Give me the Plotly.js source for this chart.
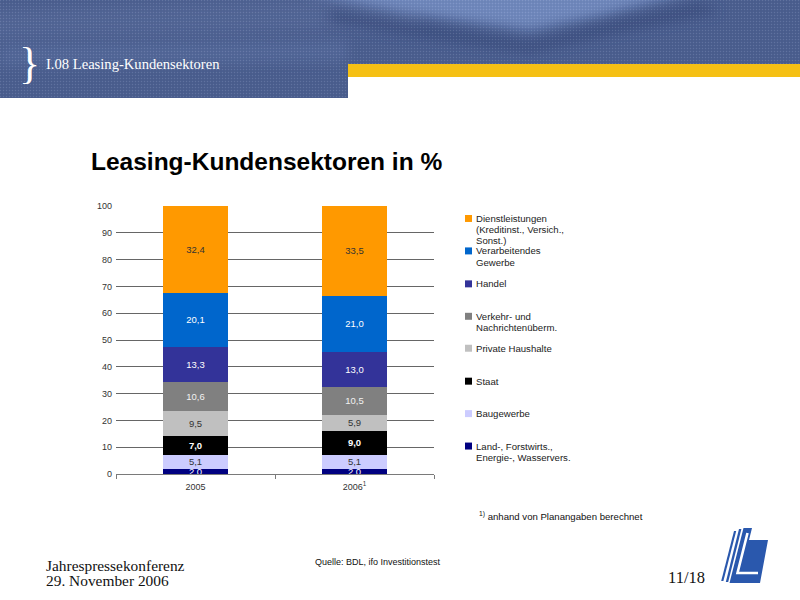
<!DOCTYPE html>
<html>
<head>
<meta charset="utf-8">
<script src="https://cdn.plot.ly/plotly-3.0.1.min.js"></script>
<style>
  html, body { margin: 0; padding: 0; background: #ffffff; }
  #stage { position: relative; width: 800px; height: 600px; overflow: hidden; }
  #deco { position: absolute; left: 0; top: 0; z-index: 0; }
  #chart { position: absolute; left: 0; top: 0; width: 800px; height: 600px; z-index: 1; }
</style>
</head>
<body>
<div id="stage">
  <!-- slide header band and company logo -->
  <svg id="deco" width="800" height="600" viewBox="0 0 800 600">
    <defs>
      <filter id="soft" x="-20%" y="-50%" width="140%" height="200%">
        <feGaussianBlur stdDeviation="6"/>
      </filter>
      <pattern id="weave" width="3" height="3" patternUnits="userSpaceOnUse">
        <rect width="1" height="1" fill="#ffffff" opacity="0.12"/>
        <rect x="1.5" y="1.5" width="1" height="1" fill="#000000" opacity="0.12"/>
      </pattern>
      <clipPath id="band">
        <path d="M0 0 H800 V64 H348 V98 H0 Z"/>
      </clipPath>
    </defs>
    <g clip-path="url(#band)">
      <rect x="0" y="0" width="800" height="98" fill="#4b5f90"/>
      <path d="M-20 10 L420 -6 L420 30 L-20 40 Z" fill="#56699a" filter="url(#soft)" opacity="0.7"/>
      <path d="M0 45 L348 40 L348 62 L0 66 Z" fill="#5a6ea0" filter="url(#soft)" opacity="0.6"/>
      <path d="M300 -10 L330 -2 L400 12 L470 22 L530 30 L600 16 L700 -10 Z" fill="#7088bd" filter="url(#soft)"/>
      <path d="M330 10 L400 22 L530 42 L620 20 L700 4 L720 12 L620 32 L530 52 L400 34 L330 22 Z" fill="#3b4e7e" filter="url(#soft)" opacity="0.8"/>
      <rect x="0" y="0" width="800" height="98" fill="url(#weave)"/>
    </g>
    <rect x="348" y="64" width="452" height="13" fill="#f5c014"/>
    <g transform="translate(718,528)" fill="#2a58ad">
      <polygon points="16,3 18.2,3 5.4,53 3.2,53"/>
      <polygon points="21,1 23.4,1 10.2,54 7.8,54"/>
      <polygon points="25.5,0 34,0 31,12 50,12 42,55 11.5,55"/>
      <polyline points="29.5,5 19.5,45 40,45" fill="none" stroke="#ffffff" stroke-width="2.6"/>
    </g>
  </svg>
  <div id="chart"></div>
</div>
<script>
// Shares of leasing customers by sector, in percent (stacked bottom to top)
const years = ['2005', '2006'];
const yearLabels = ['2005', '2006<sup>1</sup>'];

const sectorNames = [
  'Land-, Forstwirts.,\nEnergie-, Wasservers.',
  'Baugewerbe',
  'Staat',
  'Private Haushalte',
  'Verkehr- und\nNachrichtenüberm.',
  'Handel',
  'Verarbeitendes\nGewerbe',
  'Dienstleistungen\n(Kreditinst., Versich.,\nSonst.)'
];

const landForst     = [2.0, 2.0];
const baugewerbe    = [5.1, 5.1];
const staat         = [7.0, 9.0];
const privat        = [9.5, 5.9];
const verkehr       = [10.6, 10.5];
const handel        = [13.3, 13.0];
const verarbeitend  = [20.1, 21.0];
const dienst        = [32.4, 33.5];

const seriesValues = [landForst, baugewerbe, staat, privat, verkehr, handel, verarbeitend, dienst];
const sectorColors = ['#000080', '#ccccff', '#000000', '#c0c0c0', '#808080', '#333399', '#0066cc', '#ff9900'];
const labelColors  = ['#ffffff', '#333333', '#ffffff', '#333333', '#f2f2f2', '#ffffff', '#ffffff', '#333333'];
const labelWeights = [400, 400, 700, 400, 400, 400, 400, 400];

// plot area in page pixels
const L = 116, R = 434, T = 206, B = 474.5;
const W = R - L, H = B - T;
const px = x => (x - L) / W;
const py = y => (B - y) / H;

const SANS = 'Liberation Sans, Arial, sans-serif';
const SERIF = 'Liberation Serif, Times New Roman, serif';

const traces = seriesValues.map((vals, i) => ({
  type: 'bar',
  x: years,
  y: vals,
  name: sectorNames[i].replace(/\n/g, ' '),
  marker: { color: sectorColors[i], line: { width: 0 } },
  texttemplate: '%{y:.1f}',
  textposition: 'inside',
  insidetextanchor: 'middle',
  textangle: 0,
  constraintext: 'none',
  textfont: { family: SANS, size: 9.5, color: labelColors[i], weight: labelWeights[i] },
  hoverinfo: 'skip'
}));

const annotations = [];
const shapes = [];

// legend, top entry first
const legendRows = [218.5, 251, 284, 316.5, 348.5, 381.5, 414, 446.5];
const lineStep = 11.2;
for (let k = 0; k < sectorNames.length; k++) {
  const i = sectorNames.length - 1 - k;
  const yTop = legendRows[k];
  shapes.push({
    type: 'rect', xref: 'paper', yref: 'paper',
    x0: px(465), x1: px(472), y0: py(yTop - 3.5), y1: py(yTop + 3.5),
    fillcolor: sectorColors[i], line: { width: 0 }
  });
  sectorNames[i].split('\n').forEach((line, j) => {
    annotations.push({
      xref: 'paper', yref: 'paper', x: px(474), y: py(yTop + j * lineStep),
      xanchor: 'left', yanchor: 'middle', showarrow: false,
      text: line, font: { family: SANS, size: 9.6, color: '#222222' }
    });
  });
}

// header and footer text
annotations.push(
  { xref: 'paper', yref: 'paper', x: px(17), y: py(63), xanchor: 'left', yanchor: 'middle',
    showarrow: false, text: '}', font: { family: SERIF, size: 44, color: '#ffffff' } },
  { xref: 'paper', yref: 'paper', x: px(44), y: py(64), xanchor: 'left', yanchor: 'middle',
    showarrow: false, text: 'I.08 Leasing-Kundensektoren', font: { family: SERIF, size: 14.6, color: '#ffffff' } },
  { xref: 'paper', yref: 'paper', x: px(44), y: py(566), xanchor: 'left', yanchor: 'middle',
    showarrow: false, text: 'Jahrespressekonferenz', font: { family: SERIF, size: 15.4, color: '#111111' } },
  { xref: 'paper', yref: 'paper', x: px(44), y: py(581), xanchor: 'left', yanchor: 'middle',
    showarrow: false, text: '29. November 2006', font: { family: SERIF, size: 15.4, color: '#111111' } },
  { xref: 'paper', yref: 'paper', x: px(313), y: py(563), xanchor: 'left', yanchor: 'middle',
    showarrow: false, text: 'Quelle: BDL, ifo Investitionstest', font: { family: SANS, size: 9, color: '#111111' } },
  { xref: 'paper', yref: 'paper', x: px(477), y: py(516.5), xanchor: 'left', yanchor: 'middle',
    showarrow: false, text: '<sup>1)</sup> anhand von Planangaben berechnet', font: { family: SANS, size: 9.6, color: '#111111' } },
  { xref: 'paper', yref: 'paper', x: px(707), y: py(578.5), xanchor: 'right', yanchor: 'middle',
    showarrow: false, text: '11/18', font: { family: SERIF, size: 16.5, color: '#111111' } }
);

const layout = {
  width: 800, height: 600,
  margin: { l: L, r: 800 - R, t: T, b: 600 - B, pad: 0 },
  paper_bgcolor: 'rgba(0,0,0,0)',
  plot_bgcolor: '#ffffff',
  separators: ',.',
  barmode: 'stack',
  bargap: 0.59,
  showlegend: false,
  title: {
    text: 'Leasing-Kundensektoren in %',
    xref: 'container', yref: 'container',
    x: 91 / 800, xanchor: 'left',
    y: 1 - 161 / 600, yanchor: 'middle',
    font: { family: SANS, size: 24.5, weight: 700, color: '#000000' }
  },
  xaxis: {
    type: 'category',
    range: [-0.5, 1.5],
    tickvals: years, ticktext: yearLabels,
    showline: true, linecolor: '#7a7a7a', linewidth: 1,
    ticks: 'outside', tickson: 'boundaries', ticklen: 4, tickcolor: '#7a7a7a',
    ticklabelstandoff: 4,
    showgrid: false,
    tickfont: { family: SANS, size: 9, color: '#333333' },
    fixedrange: true
  },
  yaxis: {
    range: [0, 100], dtick: 10, tick0: 0,
    showgrid: true, gridcolor: '#666666', gridwidth: 1,
    zeroline: false, showline: false, ticks: '',
    ticklabelstandoff: 3,
    tickfont: { family: SANS, size: 9, color: '#333333' },
    fixedrange: true
  },
  shapes: shapes,
  annotations: annotations
};

Plotly.newPlot('chart', traces, layout, { displayModeBar: false, staticPlot: true });
</script>
</body>
</html>
